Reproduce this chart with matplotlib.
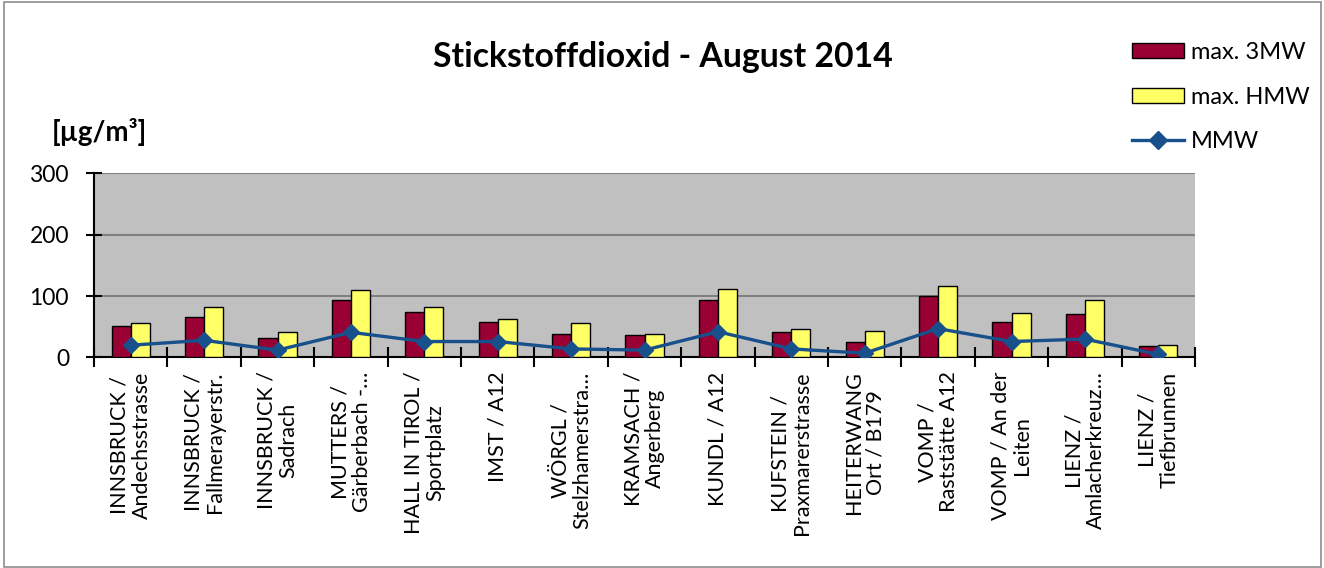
import matplotlib
matplotlib.use("Agg")
import matplotlib.pyplot as plt
import numpy as np
from matplotlib.patches import Rectangle, Patch
from matplotlib.lines import Line2D

plt.rcParams["font.family"] = ["Lato", "DejaVu Sans"]

# Messstellen
stations = [
    "INNSBRUCK /\nAndechsstrasse",
    "INNSBRUCK /\nFallmerayerstr.",
    "INNSBRUCK /\nSadrach",
    "MUTTERS /\nGärberbach -…",
    "HALL IN TIROL /\nSportplatz",
    "IMST / A12",
    "WÖRGL /\nStelzhamerstra…",
    "KRAMSACH /\nAngerberg",
    "KUNDL / A12",
    "KUFSTEIN /\nPraxmarerstrasse",
    "HEITERWANG\nOrt / B179",
    "VOMP /\nRaststätte A12",
    "VOMP / An der\nLeiten",
    "LIENZ /\nAmlacherkreuz…",
    "LIENZ /\nTiefbrunnen",
]
max_3mw = [51, 66, 32, 94, 74, 58, 38, 36, 94, 41, 25, 100, 58, 71, 18]
max_hmw = [56, 83, 41, 110, 83, 62, 56, 38, 112, 47, 43, 117, 73, 94, 20]
mmw = [20, 28, 12, 41, 26, 26, 14, 12, 42, 14, 7, 47, 26, 30, 5]

yticks = [0, 100, 200, 300]

fig = plt.figure(figsize=(13.24, 5.68), dpi=100)
ax = fig.add_axes([0.0710, 0.3706, 0.8316, 0.3243])

x = np.arange(len(stations))
w = 0.26
ax.bar(x - w / 2, max_3mw, w, color="#990033", edgecolor="black", linewidth=1.0, zorder=3)
ax.bar(x + w / 2, max_hmw, w, color="#FFFF66", edgecolor="black", linewidth=1.0, zorder=3)
ax.plot(x, mmw, color="#17508A", linewidth=2.4, marker="D", markersize=8, zorder=4)

ax.set_xlim(-0.5, len(stations) - 0.5)
ax.set_ylim(0, 300)
ax.set_facecolor("#C0C0C0")
ax.set_yticks(yticks)
ax.set_yticklabels([str(v) for v in yticks], fontsize=16.5)
ax.yaxis.grid(True, color="#808080", linewidth=1.5, zorder=0)
ax.set_axisbelow(True)

# Kategoriegrenzen als Ticks
ax.set_xticks(np.arange(len(stations) + 1) - 0.5)
ax.set_xticklabels([])
ax.tick_params(axis="x", direction="inout", length=14, width=1.5)
ax.tick_params(axis="y", direction="inout", length=12, width=1.5, pad=12)

for s in ["top", "right"]:
    ax.spines[s].set_visible(False)
for s in ["left", "bottom"]:
    ax.spines[s].set_linewidth(1.5)

for i, lab in enumerate(stations):
    ax.annotate(lab, xy=(i, 0), xycoords=("data", "axes fraction"),
                xytext=(0, -10), textcoords="offset points",
                rotation=90, ha="center", va="top", multialignment="center",
                fontsize=15.5, linespacing=1.1)

fig.text(0.501, 0.90, "Stickstoffdioxid - August 2014", ha="center", va="center",
         fontsize=24.3, fontweight="bold")
fig.text(0.039, 0.767, "[µg/m³]", ha="left", va="center", fontsize=20, fontweight="bold")

handles = [
    Patch(facecolor="#990033", edgecolor="black", label="max. 3MW"),
    Patch(facecolor="#FFFF66", edgecolor="black", label="max. HMW"),
    Line2D([0], [0], color="#17508A", linewidth=2.4, marker="D", markersize=9, label="MMW"),
]
fig.legend(handles=handles, loc="upper left", bbox_to_anchor=(0.855, 0.926),
           frameon=False, fontsize=17, labelspacing=1.0, handlelength=2.2,
           handleheight=0.6, handletextpad=0.3, borderpad=0, borderaxespad=0)

fig.patches.append(Rectangle((0.003, 0.002), 0.995, 0.995, transform=fig.transFigure,
                             fill=False, edgecolor="#8C8C8C", linewidth=1.2))

fig.savefig("out.png", dpi=100)
